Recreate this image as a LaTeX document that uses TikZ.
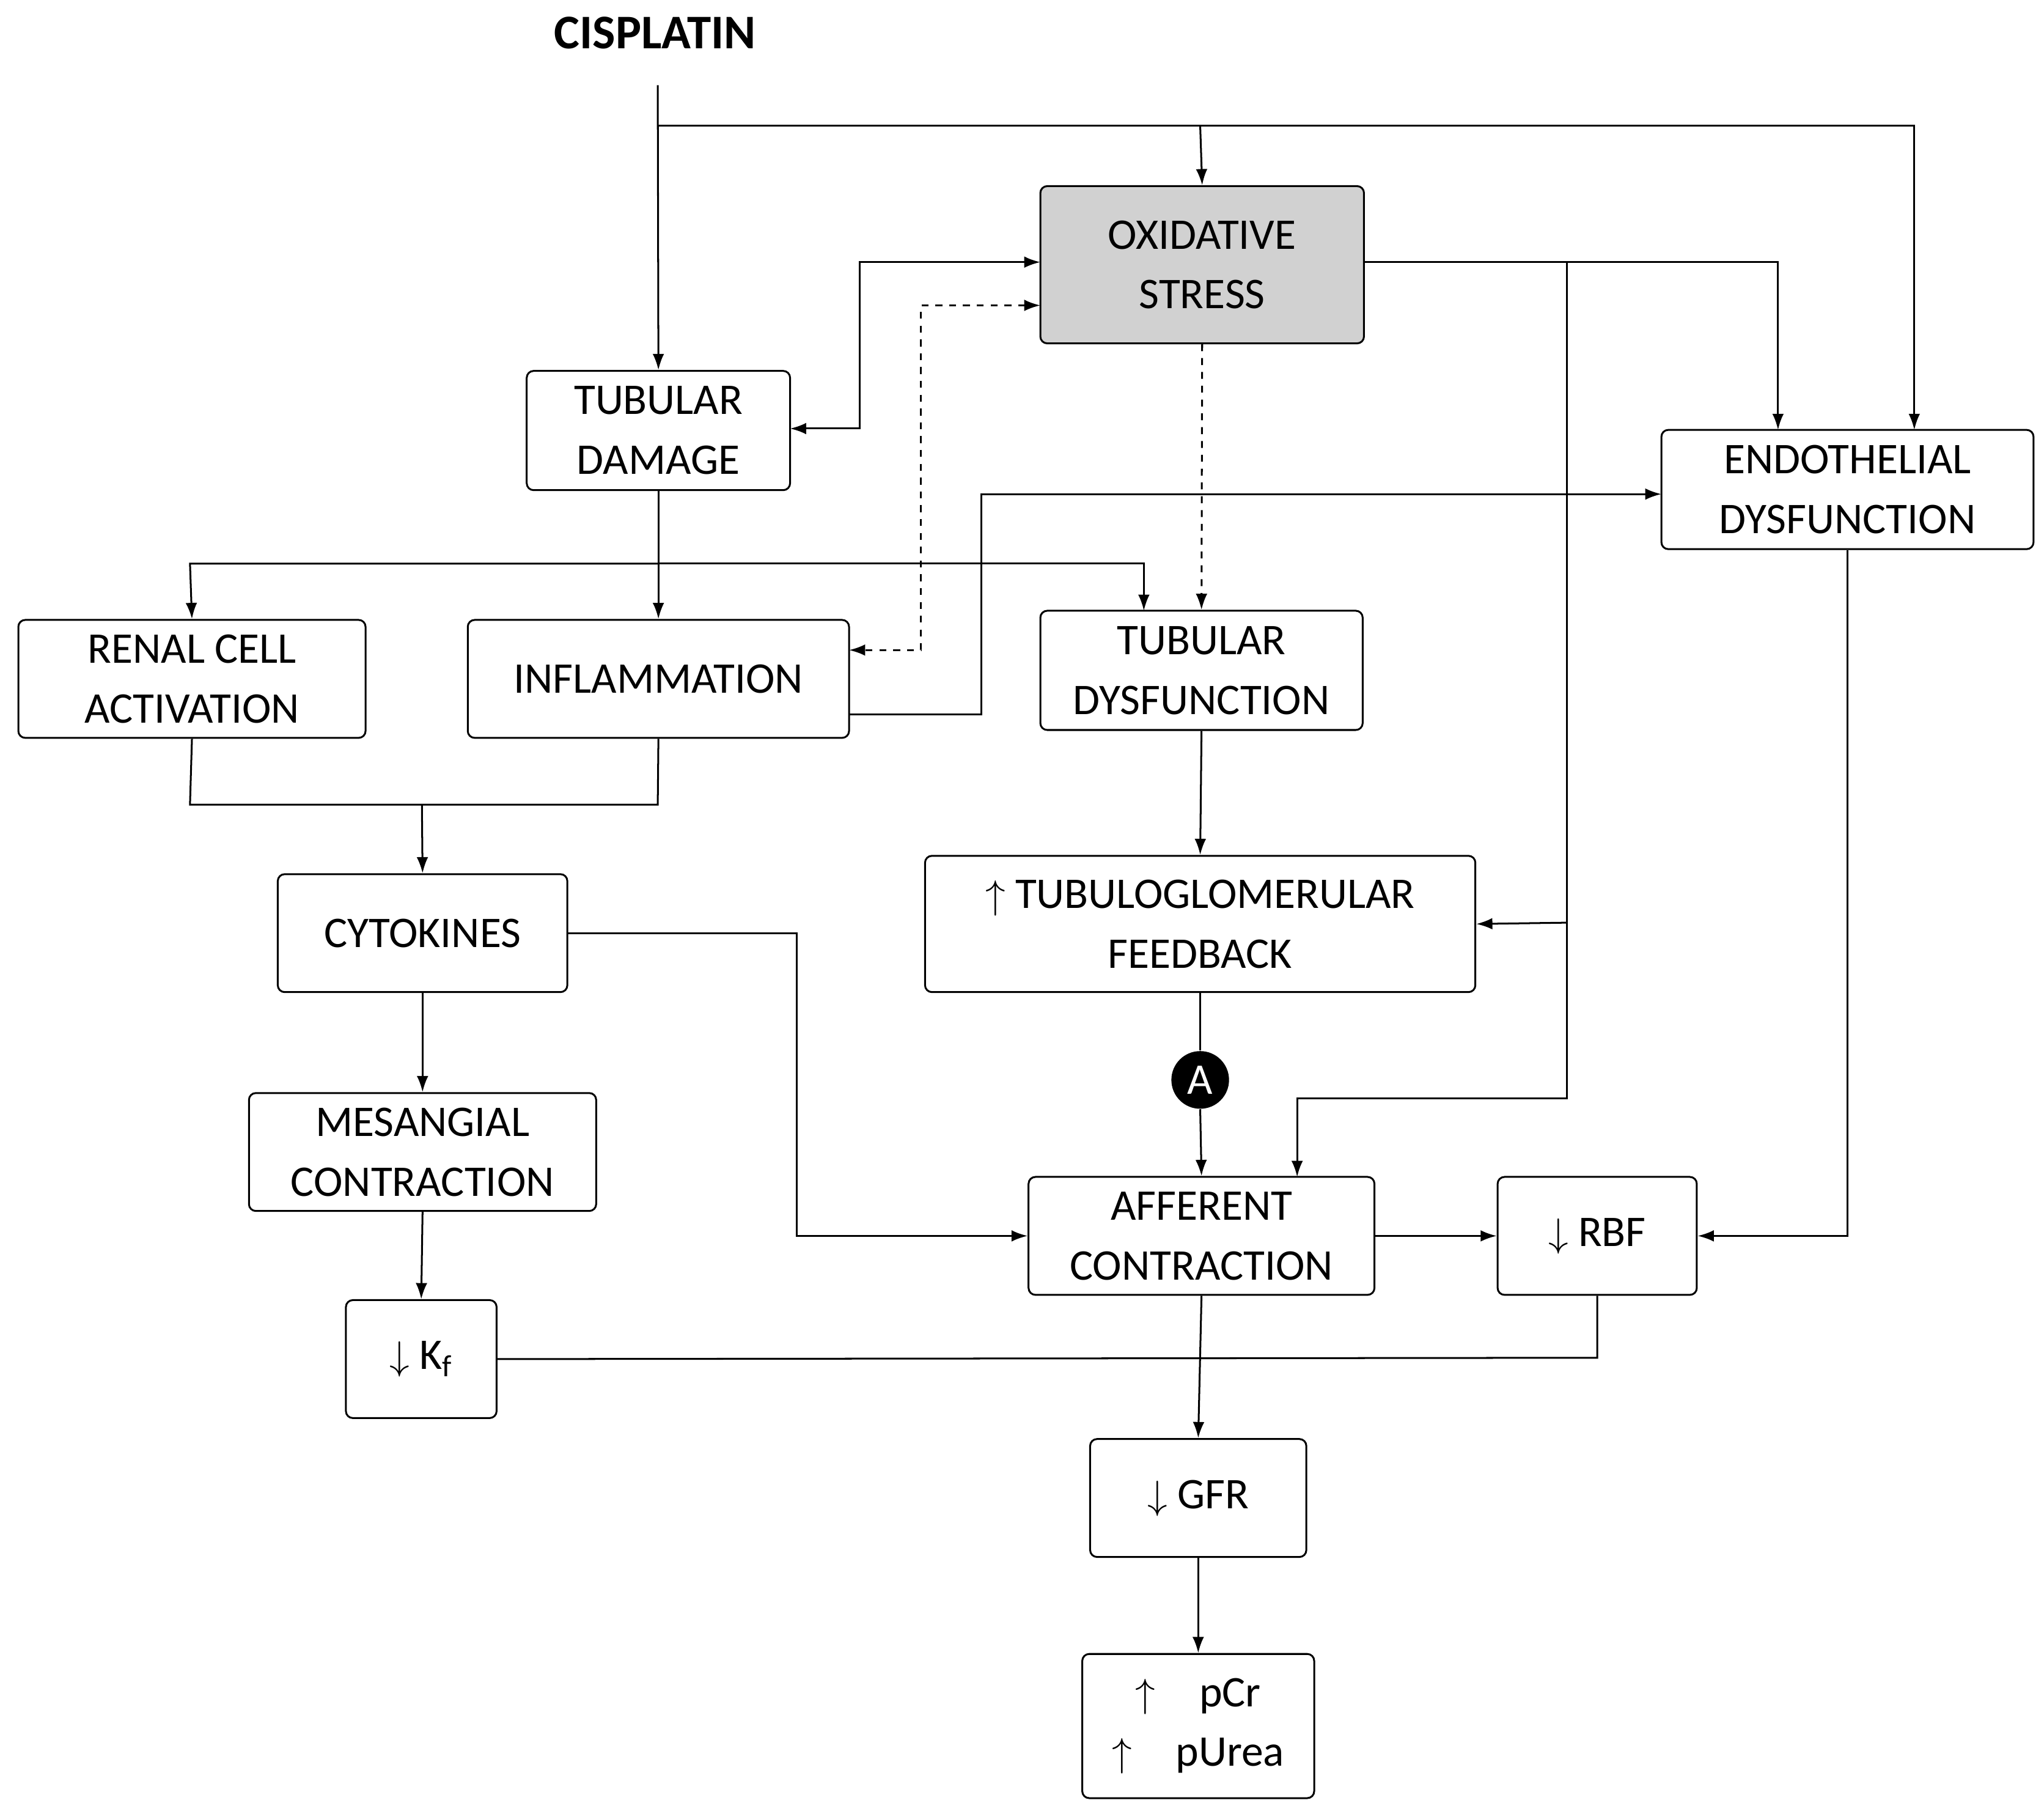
\documentclass[tikz,border=0pt]{standalone}
\usepackage{fontspec}
\setmainfont{Carlito}
\usetikzlibrary{arrows.meta}
\begin{document}
\begin{tikzpicture}[x=0.02cm,y=-0.02cm,
  box/.style={draw,rounded corners=3pt,line width=0.8pt,align=center,inner sep=0pt,font=\fontsize{19}{26}\selectfont},
  ln/.style={line width=0.8pt},
  ar/.style={ln,-{Latex[length=7pt,width=5pt]}},
  da/.style={ar,dashed}]
\useasboundingbox (0,0) rectangle (1560,1384);
\def\B#1#2#3#4#5#6{\node[box,minimum width={(#4-#2)*0.02cm},minimum height={(#5-#3)*0.02cm},#6] (#1) at ({(#2+#4)/2},{(#3+#5)/2})}
\node[font=\bfseries\fontsize{21}{24}\selectfont] (cis) at (500,25) {CISPLATIN};
\B{ox}{794}{142}{1041}{262}{fill=black!18} {OXIDATIVE\\STRESS};
\B{td}{402}{283}{603}{374}{} {TUBULAR\\DAMAGE};
\B{en}{1268}{328}{1552}{419}{} {ENDOTHELIAL\\DYSFUNCTION};
\B{rc}{14}{473}{279}{563}{} {RENAL CELL\\ACTIVATION};
\B{in}{357}{473}{648}{563}{} {INFLAMMATION};
\B{tdy}{794}{466}{1040}{557}{} {TUBULAR\\DYSFUNCTION};
\B{tgf}{706}{653}{1126}{757}{} {$\uparrow$ TUBULOGLOMERULAR\\FEEDBACK};
\B{cy}{212}{667}{433}{757}{} {CYTOKINES};
\B{me}{190}{834}{455}{924}{} {MESANGIAL\\CONTRACTION};
\B{af}{785}{898}{1049}{988}{} {AFFERENT\\CONTRACTION};
\B{rbf}{1143}{898}{1295}{988}{} {$\downarrow$ RBF};
\B{kf}{264}{992}{379}{1082}{} {$\downarrow$ K\textsubscript{f}};
\B{gfr}{832}{1098}{997}{1188}{} {$\downarrow$ GFR};
\B{pcr}{826}{1262}{1003}{1372}{} {$\uparrow$\quad pCr\\$\uparrow$\quad pUrea};
\node[circle,fill=black,text=white,minimum size=44*0.02cm,inner sep=0pt,font=\fontsize{19}{22}\selectfont] (A) at (916,824) {A};
\coordinate (c0) at (502,65);
% cisplatin lines
\draw[ar] (c0) -- (td.north);
\draw[ar] (502,96) -- (1461,96) -- (1461,328);
\draw[ar] (916,96) -- (ox.north);
% ox <-> tubular damage
\draw[ln,{Latex[length=7pt,width=5pt]}-{Latex[length=7pt,width=5pt]}] (794,200) -- (656,200) -- (656,327) -- (603,327);
\draw[ln,dashed,{Latex[length=7pt,width=5pt]}-{Latex[length=7pt,width=5pt]}] (794,233) -- (703,233) -- (703,496) -- (648,496);
\draw[da] (ox.south) -- (tdy.north);
% ox right
\draw[ar] (1041,200) -- (1357,200) -- (1357,328);
\draw[ar] (1196,200) -- (1196,838) -- (990,838) -- (990,898);
\draw[ar] (1196,704) -- (tgf.east);
% tubular damage down
\draw[ar] (td.south) -- (in.north);
\draw[ar] (502,430) -- (145,430) -- (rc.north);
\draw[ar] (502,430) -- (873,430) -- (873,466);
% inflammation to endothelial
\draw[ar] (648,545) -- (749,545) -- (749,377) -- (1268,377);
% renal + inflammation to cytokines
\draw[ln] (rc.south) -- (145,614) -- (502,614) -- (in.south);
\draw[ar] (322,614) -- (cy.north);
\draw[ar] (tdy.south) -- (tgf.north);
\draw[ln] (tgf.south) -- (A.north);
\draw[ar] (A.south) -- (af.north);
\draw[ar] (433,712) -- (608,712) -- (608,943) -- (af.west);
\draw[ar] (cy.south) -- (me.north);
\draw[ar] (me.south) -- (kf.north);
\draw[ar] (af.east) -- (rbf.west);
\draw[ar] (en.south) -- (1410,943) -- (rbf.east);
\draw[ln] (kf.east) -- (1219,1036) -- (rbf.south);
\draw[ar] (af.south) -- (gfr.north);
\draw[ar] (gfr.south) -- (pcr.north);
\end{tikzpicture}
\end{document}
